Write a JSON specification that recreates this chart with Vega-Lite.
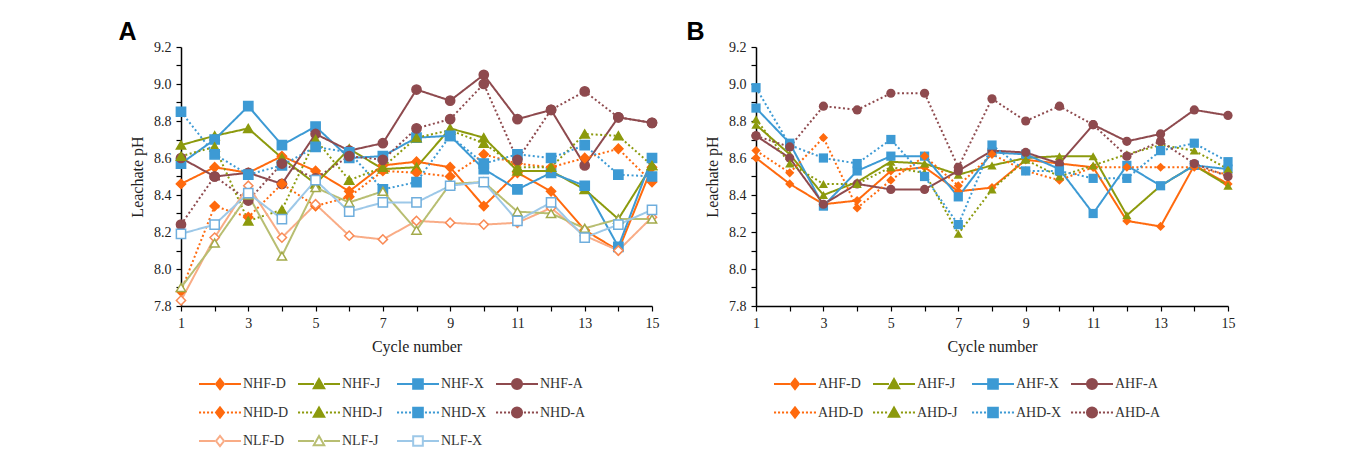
{
  "$schema": "https://vega.github.io/schema/vega-lite/v6.json",
  "background": "white",
  "padding": {"left": 118, "top": 20, "right": 5, "bottom": 5},
  "spacing": 26,
  "config": {
    "font": "Liberation Serif",
    "view": {"stroke": null},
    "axis": {"domainColor": "#000", "domainWidth": 1.5, "tickColor": "#000", "tickWidth": 1.2, "tickSize": 5, "labelFont": "Liberation Serif", "labelFontSize": 14, "labelColor": "#222", "labelPadding": 5, "labelFlush": false, "titleFont": "Liberation Serif", "titleFontSize": 16, "titleFontWeight": "normal", "titleColor": "#222", "grid": false},
    "legend": {"orient": "bottom", "direction": "horizontal", "columns": 4, "gridAlign": "all", "labelFont": "Liberation Serif", "labelFontSize": 14, "labelColor": "#333", "symbolSize": 1764, "symbolStrokeWidth": 2, "labelOffset": 1, "clipHeight": 20, "rowPadding": 8.5, "columnPadding": 8, "offset": 3, "padding": 17},
    "title": {"anchor": "start", "frame": "bounds", "font": "Liberation Sans", "fontSize": 25, "fontWeight": "bold", "color": "#000", "offset": -5}
  },
  "resolve": {
    "scale": {"color": "independent", "fill": "independent", "stroke": "independent", "shape": "independent", "strokeDash": "independent", "strokeWidth": "independent"},
    "legend": {"color": "independent"}
  },
  "datasets": {
    "A": [
      {"series":"NHF-D","cycle":1,"ph":8.46},{"series":"NHF-D","cycle":2,"ph":8.55},{"series":"NHF-D","cycle":3,"ph":8.52},{"series":"NHF-D","cycle":4,"ph":8.61},{"series":"NHF-D","cycle":5,"ph":8.53},{"series":"NHF-D","cycle":6,"ph":8.42},{"series":"NHF-D","cycle":7,"ph":8.56},{"series":"NHF-D","cycle":8,"ph":8.58},{"series":"NHF-D","cycle":9,"ph":8.55},{"series":"NHF-D","cycle":10,"ph":8.34},{"series":"NHF-D","cycle":11,"ph":8.52},{"series":"NHF-D","cycle":12,"ph":8.42},{"series":"NHF-D","cycle":13,"ph":8.21},{"series":"NHF-D","cycle":14,"ph":8.10},{"series":"NHF-D","cycle":15,"ph":8.55},
      {"series":"NHF-J","cycle":1,"ph":8.67},{"series":"NHF-J","cycle":2,"ph":8.72},{"series":"NHF-J","cycle":3,"ph":8.76},{"series":"NHF-J","cycle":4,"ph":8.60},{"series":"NHF-J","cycle":5,"ph":8.46},{"series":"NHF-J","cycle":6,"ph":8.65},{"series":"NHF-J","cycle":7,"ph":8.54},{"series":"NHF-J","cycle":8,"ph":8.55},{"series":"NHF-J","cycle":9,"ph":8.76},{"series":"NHF-J","cycle":10,"ph":8.71},{"series":"NHF-J","cycle":11,"ph":8.53},{"series":"NHF-J","cycle":12,"ph":8.53},{"series":"NHF-J","cycle":13,"ph":8.43},{"series":"NHF-J","cycle":14,"ph":8.27},{"series":"NHF-J","cycle":15,"ph":8.56},
      {"series":"NHF-X","cycle":1,"ph":8.57},{"series":"NHF-X","cycle":2,"ph":8.70},{"series":"NHF-X","cycle":3,"ph":8.88},{"series":"NHF-X","cycle":4,"ph":8.67},{"series":"NHF-X","cycle":5,"ph":8.77},{"series":"NHF-X","cycle":6,"ph":8.60},{"series":"NHF-X","cycle":7,"ph":8.61},{"series":"NHF-X","cycle":8,"ph":8.71},{"series":"NHF-X","cycle":9,"ph":8.72},{"series":"NHF-X","cycle":10,"ph":8.54},{"series":"NHF-X","cycle":11,"ph":8.43},{"series":"NHF-X","cycle":12,"ph":8.52},{"series":"NHF-X","cycle":13,"ph":8.45},{"series":"NHF-X","cycle":14,"ph":8.12},{"series":"NHF-X","cycle":15,"ph":8.60},
      {"series":"NHF-A","cycle":1,"ph":8.60},{"series":"NHF-A","cycle":2,"ph":8.50},{"series":"NHF-A","cycle":3,"ph":8.52},{"series":"NHF-A","cycle":4,"ph":8.46},{"series":"NHF-A","cycle":5,"ph":8.73},{"series":"NHF-A","cycle":6,"ph":8.64},{"series":"NHF-A","cycle":7,"ph":8.68},{"series":"NHF-A","cycle":8,"ph":8.97},{"series":"NHF-A","cycle":9,"ph":8.91},{"series":"NHF-A","cycle":10,"ph":9.05},{"series":"NHF-A","cycle":11,"ph":8.81},{"series":"NHF-A","cycle":12,"ph":8.86},{"series":"NHF-A","cycle":13,"ph":8.56},{"series":"NHF-A","cycle":14,"ph":8.82},{"series":"NHF-A","cycle":15,"ph":8.79},
      {"series":"NHD-D","cycle":1,"ph":7.88},{"series":"NHD-D","cycle":2,"ph":8.34},{"series":"NHD-D","cycle":3,"ph":8.28},{"series":"NHD-D","cycle":4,"ph":8.46},{"series":"NHD-D","cycle":5,"ph":8.34},{"series":"NHD-D","cycle":6,"ph":8.39},{"series":"NHD-D","cycle":7,"ph":8.53},{"series":"NHD-D","cycle":8,"ph":8.52},{"series":"NHD-D","cycle":9,"ph":8.50},{"series":"NHD-D","cycle":10,"ph":8.62},{"series":"NHD-D","cycle":11,"ph":8.57},{"series":"NHD-D","cycle":12,"ph":8.55},{"series":"NHD-D","cycle":13,"ph":8.60},{"series":"NHD-D","cycle":14,"ph":8.65},{"series":"NHD-D","cycle":15,"ph":8.47},
      {"series":"NHD-J","cycle":1,"ph":8.61},{"series":"NHD-J","cycle":2,"ph":8.66},{"series":"NHD-J","cycle":3,"ph":8.26},{"series":"NHD-J","cycle":4,"ph":8.32},{"series":"NHD-J","cycle":5,"ph":8.70},{"series":"NHD-J","cycle":6,"ph":8.48},{"series":"NHD-J","cycle":7,"ph":8.55},{"series":"NHD-J","cycle":8,"ph":8.71},{"series":"NHD-J","cycle":9,"ph":8.75},{"series":"NHD-J","cycle":10,"ph":8.68},{"series":"NHD-J","cycle":11,"ph":8.55},{"series":"NHD-J","cycle":12,"ph":8.55},{"series":"NHD-J","cycle":13,"ph":8.73},{"series":"NHD-J","cycle":14,"ph":8.72},{"series":"NHD-J","cycle":15,"ph":8.56},
      {"series":"NHD-X","cycle":1,"ph":8.85},{"series":"NHD-X","cycle":2,"ph":8.62},{"series":"NHD-X","cycle":3,"ph":8.51},{"series":"NHD-X","cycle":4,"ph":8.56},{"series":"NHD-X","cycle":5,"ph":8.66},{"series":"NHD-X","cycle":6,"ph":8.63},{"series":"NHD-X","cycle":7,"ph":8.43},{"series":"NHD-X","cycle":8,"ph":8.47},{"series":"NHD-X","cycle":9,"ph":8.72},{"series":"NHD-X","cycle":10,"ph":8.57},{"series":"NHD-X","cycle":11,"ph":8.62},{"series":"NHD-X","cycle":12,"ph":8.60},{"series":"NHD-X","cycle":13,"ph":8.67},{"series":"NHD-X","cycle":14,"ph":8.51},{"series":"NHD-X","cycle":15,"ph":8.50},
      {"series":"NHD-A","cycle":1,"ph":8.24},{"series":"NHD-A","cycle":2,"ph":8.50},{"series":"NHD-A","cycle":3,"ph":8.37},{"series":"NHD-A","cycle":4,"ph":8.57},{"series":"NHD-A","cycle":5,"ph":8.49},{"series":"NHD-A","cycle":6,"ph":8.61},{"series":"NHD-A","cycle":7,"ph":8.59},{"series":"NHD-A","cycle":8,"ph":8.76},{"series":"NHD-A","cycle":9,"ph":8.81},{"series":"NHD-A","cycle":10,"ph":9.00},{"series":"NHD-A","cycle":11,"ph":8.59},{"series":"NHD-A","cycle":12,"ph":8.86},{"series":"NHD-A","cycle":13,"ph":8.96},{"series":"NHD-A","cycle":14,"ph":8.82},{"series":"NHD-A","cycle":15,"ph":8.79},
      {"series":"NLF-D","cycle":1,"ph":7.83},{"series":"NLF-D","cycle":2,"ph":8.17},{"series":"NLF-D","cycle":3,"ph":8.45},{"series":"NLF-D","cycle":4,"ph":8.17},{"series":"NLF-D","cycle":5,"ph":8.35},{"series":"NLF-D","cycle":6,"ph":8.18},{"series":"NLF-D","cycle":7,"ph":8.16},{"series":"NLF-D","cycle":8,"ph":8.26},{"series":"NLF-D","cycle":9,"ph":8.25},{"series":"NLF-D","cycle":10,"ph":8.24},{"series":"NLF-D","cycle":11,"ph":8.25},{"series":"NLF-D","cycle":12,"ph":8.33},{"series":"NLF-D","cycle":13,"ph":8.18},{"series":"NLF-D","cycle":14,"ph":8.10},{"series":"NLF-D","cycle":15,"ph":8.28},
      {"series":"NLF-J","cycle":1,"ph":7.90},{"series":"NLF-J","cycle":2,"ph":8.14},{"series":"NLF-J","cycle":3,"ph":8.40},{"series":"NLF-J","cycle":4,"ph":8.07},{"series":"NLF-J","cycle":5,"ph":8.44},{"series":"NLF-J","cycle":6,"ph":8.36},{"series":"NLF-J","cycle":7,"ph":8.42},{"series":"NLF-J","cycle":8,"ph":8.21},{"series":"NLF-J","cycle":9,"ph":8.46},{"series":"NLF-J","cycle":10,"ph":8.47},{"series":"NLF-J","cycle":11,"ph":8.31},{"series":"NLF-J","cycle":12,"ph":8.30},{"series":"NLF-J","cycle":13,"ph":8.22},{"series":"NLF-J","cycle":14,"ph":8.27},{"series":"NLF-J","cycle":15,"ph":8.27},
      {"series":"NLF-X","cycle":1,"ph":8.19},{"series":"NLF-X","cycle":2,"ph":8.24},{"series":"NLF-X","cycle":3,"ph":8.41},{"series":"NLF-X","cycle":4,"ph":8.27},{"series":"NLF-X","cycle":5,"ph":8.48},{"series":"NLF-X","cycle":6,"ph":8.31},{"series":"NLF-X","cycle":7,"ph":8.36},{"series":"NLF-X","cycle":8,"ph":8.36},{"series":"NLF-X","cycle":9,"ph":8.45},{"series":"NLF-X","cycle":10,"ph":8.47},{"series":"NLF-X","cycle":11,"ph":8.26},{"series":"NLF-X","cycle":12,"ph":8.36},{"series":"NLF-X","cycle":13,"ph":8.17},{"series":"NLF-X","cycle":14,"ph":8.24},{"series":"NLF-X","cycle":15,"ph":8.32}
    ],
    "B": [
      {"series":"AHF-D","cycle":1,"ph":8.60},{"series":"AHF-D","cycle":2,"ph":8.46},{"series":"AHF-D","cycle":3,"ph":8.35},{"series":"AHF-D","cycle":4,"ph":8.37},{"series":"AHF-D","cycle":5,"ph":8.53},{"series":"AHF-D","cycle":6,"ph":8.55},{"series":"AHF-D","cycle":7,"ph":8.42},{"series":"AHF-D","cycle":8,"ph":8.44},{"series":"AHF-D","cycle":9,"ph":8.59},{"series":"AHF-D","cycle":10,"ph":8.57},{"series":"AHF-D","cycle":11,"ph":8.55},{"series":"AHF-D","cycle":12,"ph":8.26},{"series":"AHF-D","cycle":13,"ph":8.23},{"series":"AHF-D","cycle":14,"ph":8.56},{"series":"AHF-D","cycle":15,"ph":8.46},
      {"series":"AHF-J","cycle":1,"ph":8.78},{"series":"AHF-J","cycle":2,"ph":8.62},{"series":"AHF-J","cycle":3,"ph":8.40},{"series":"AHF-J","cycle":4,"ph":8.47},{"series":"AHF-J","cycle":5,"ph":8.58},{"series":"AHF-J","cycle":6,"ph":8.57},{"series":"AHF-J","cycle":7,"ph":8.51},{"series":"AHF-J","cycle":8,"ph":8.56},{"series":"AHF-J","cycle":9,"ph":8.60},{"series":"AHF-J","cycle":10,"ph":8.61},{"series":"AHF-J","cycle":11,"ph":8.61},{"series":"AHF-J","cycle":12,"ph":8.29},{"series":"AHF-J","cycle":13,"ph":8.45},{"series":"AHF-J","cycle":14,"ph":8.56},{"series":"AHF-J","cycle":15,"ph":8.45},
      {"series":"AHF-X","cycle":1,"ph":8.87},{"series":"AHF-X","cycle":2,"ph":8.68},{"series":"AHF-X","cycle":3,"ph":8.34},{"series":"AHF-X","cycle":4,"ph":8.53},{"series":"AHF-X","cycle":5,"ph":8.61},{"series":"AHF-X","cycle":6,"ph":8.61},{"series":"AHF-X","cycle":7,"ph":8.39},{"series":"AHF-X","cycle":8,"ph":8.63},{"series":"AHF-X","cycle":9,"ph":8.62},{"series":"AHF-X","cycle":10,"ph":8.54},{"series":"AHF-X","cycle":11,"ph":8.30},{"series":"AHF-X","cycle":12,"ph":8.56},{"series":"AHF-X","cycle":13,"ph":8.45},{"series":"AHF-X","cycle":14,"ph":8.56},{"series":"AHF-X","cycle":15,"ph":8.54},
      {"series":"AHF-A","cycle":1,"ph":8.72},{"series":"AHF-A","cycle":2,"ph":8.60},{"series":"AHF-A","cycle":3,"ph":8.35},{"series":"AHF-A","cycle":4,"ph":8.46},{"series":"AHF-A","cycle":5,"ph":8.43},{"series":"AHF-A","cycle":6,"ph":8.43},{"series":"AHF-A","cycle":7,"ph":8.53},{"series":"AHF-A","cycle":8,"ph":8.64},{"series":"AHF-A","cycle":9,"ph":8.63},{"series":"AHF-A","cycle":10,"ph":8.57},{"series":"AHF-A","cycle":11,"ph":8.78},{"series":"AHF-A","cycle":12,"ph":8.69},{"series":"AHF-A","cycle":13,"ph":8.73},{"series":"AHF-A","cycle":14,"ph":8.86},{"series":"AHF-A","cycle":15,"ph":8.83},
      {"series":"AHD-D","cycle":1,"ph":8.64},{"series":"AHD-D","cycle":2,"ph":8.52},{"series":"AHD-D","cycle":3,"ph":8.71},{"series":"AHD-D","cycle":4,"ph":8.33},{"series":"AHD-D","cycle":5,"ph":8.48},{"series":"AHD-D","cycle":6,"ph":8.61},{"series":"AHD-D","cycle":7,"ph":8.45},{"series":"AHD-D","cycle":8,"ph":8.62},{"series":"AHD-D","cycle":9,"ph":8.53},{"series":"AHD-D","cycle":10,"ph":8.48},{"series":"AHD-D","cycle":11,"ph":8.55},{"series":"AHD-D","cycle":12,"ph":8.55},{"series":"AHD-D","cycle":13,"ph":8.55},{"series":"AHD-D","cycle":14,"ph":8.55},{"series":"AHD-D","cycle":15,"ph":8.51},
      {"series":"AHD-J","cycle":1,"ph":8.81},{"series":"AHD-J","cycle":2,"ph":8.57},{"series":"AHD-J","cycle":3,"ph":8.46},{"series":"AHD-J","cycle":4,"ph":8.46},{"series":"AHD-J","cycle":5,"ph":8.55},{"series":"AHD-J","cycle":6,"ph":8.52},{"series":"AHD-J","cycle":7,"ph":8.19},{"series":"AHD-J","cycle":8,"ph":8.43},{"series":"AHD-J","cycle":9,"ph":8.59},{"series":"AHD-J","cycle":10,"ph":8.50},{"series":"AHD-J","cycle":11,"ph":8.56},{"series":"AHD-J","cycle":12,"ph":8.62},{"series":"AHD-J","cycle":13,"ph":8.67},{"series":"AHD-J","cycle":14,"ph":8.64},{"series":"AHD-J","cycle":15,"ph":8.54},
      {"series":"AHD-X","cycle":1,"ph":8.98},{"series":"AHD-X","cycle":2,"ph":8.67},{"series":"AHD-X","cycle":3,"ph":8.60},{"series":"AHD-X","cycle":4,"ph":8.57},{"series":"AHD-X","cycle":5,"ph":8.70},{"series":"AHD-X","cycle":6,"ph":8.50},{"series":"AHD-X","cycle":7,"ph":8.24},{"series":"AHD-X","cycle":8,"ph":8.67},{"series":"AHD-X","cycle":9,"ph":8.53},{"series":"AHD-X","cycle":10,"ph":8.53},{"series":"AHD-X","cycle":11,"ph":8.49},{"series":"AHD-X","cycle":12,"ph":8.49},{"series":"AHD-X","cycle":13,"ph":8.64},{"series":"AHD-X","cycle":14,"ph":8.68},{"series":"AHD-X","cycle":15,"ph":8.58},
      {"series":"AHD-A","cycle":1,"ph":8.72},{"series":"AHD-A","cycle":2,"ph":8.66},{"series":"AHD-A","cycle":3,"ph":8.88},{"series":"AHD-A","cycle":4,"ph":8.86},{"series":"AHD-A","cycle":5,"ph":8.95},{"series":"AHD-A","cycle":6,"ph":8.95},{"series":"AHD-A","cycle":7,"ph":8.55},{"series":"AHD-A","cycle":8,"ph":8.92},{"series":"AHD-A","cycle":9,"ph":8.80},{"series":"AHD-A","cycle":10,"ph":8.88},{"series":"AHD-A","cycle":11,"ph":8.78},{"series":"AHD-A","cycle":12,"ph":8.61},{"series":"AHD-A","cycle":13,"ph":8.69},{"series":"AHD-A","cycle":14,"ph":8.57},{"series":"AHD-A","cycle":15,"ph":8.50}
    ]
  },
  "hconcat": [
    {
      "title": {"text": "A", "dx": -11},
      "width": 471,
      "height": 259,
      "data": {"name": "A"},
      "encoding": {
        "x": {"field": "cycle", "type": "quantitative", "title": "Cycle number", "scale": {"domain": [1, 15], "nice": false, "zero": false}, "axis": {"values": [1,2,3,4,5,6,7,8,9,10,11,12,13,14,15], "labelExpr": "datum.value % 2 == 1 ? datum.label : ''", "titlePadding": 8}},
        "y": {"field": "ph", "type": "quantitative", "title": "Leachate pH", "scale": {"domain": [7.8, 9.2], "nice": false, "zero": false}, "axis": {"values": [7.8,7.9,8.0,8.1,8.2,8.3,8.4,8.5,8.6,8.7,8.8,8.9,9.0,9.1,9.2], "labelExpr": "round(datum.value*10) % 2 == 0 ? format(datum.value, '.1f') : ''", "titlePadding": 8}}
      },
      "layer": [
        {
          "mark": {"type": "line", "strokeCap": "butt"},
          "encoding": {
            "color": {"field": "series", "type": "nominal", "scale": {"domain": ["NHF-D","NHF-J","NHF-X","NHF-A","NHD-D","NHD-J","NHD-X","NHD-A","NLF-D","NLF-J","NLF-X"], "range": ["#FF6A0E","#8C9A0D","#3D9AD4","#8E4A4E","#FF6A0E","#8C9A0D","#3D9AD4","#8E4A4E","#F9AC86","#B8BE72","#9DC8E8"]},
              "legend": {"title": null, "encode": {"symbols": {"update": {
                "shape": {"signal": "(substring(datum.value,2,3) == 'D' ? 'M-1,0H-0.9M-0.81,0H-0.71M-0.62,0H-0.52M-0.43,0H-0.33M0.33,0H0.43M0.52,0H0.62M0.71,0H0.81M0.9,0H1' : 'M-1,0H-0.24M0.24,0H1') + ['M0,-0.24L0.19,0L0,0.24L-0.19,0Z','M0,-0.24L0.25,0.2L-0.25,0.2Z','M-0.23,-0.23H0.23V0.23H-0.23Z','M0.24,0A0.24,0.24,0,1,1,-0.24,0A0.24,0.24,0,1,1,0.24,0Z'][indexof('DJXA', substring(datum.value,4,5))]"},
                "stroke": {"signal": "substring(datum.value,1,2) == 'L' ? ['#F9A57D','#AEB55E','#8DC0E6','#8E4A4E'][indexof('DJXA', substring(datum.value,4,5))] : ['#FF6A0E','#8C9A0D','#3D9AD4','#8E4A4E'][indexof('DJXA', substring(datum.value,4,5))]"},
                "fill": {"signal": "substring(datum.value,1,2) == 'L' ? '#ffffff' : ['#FF6A0E','#8C9A0D','#3D9AD4','#8E4A4E'][indexof('DJXA', substring(datum.value,4,5))]"},
                "strokeWidth": {"signal": "substring(datum.value,1,2) == 'L' ? 2.5 : 2"},
                "opacity": {"value": 1}
              }}}}},
            "strokeDash": {"field": "series", "type": "nominal", "legend": null, "scale": {"domain": ["NHD-D","NHD-J","NHD-X","NHD-A","NHF-D","NHF-J","NHF-X","NHF-A","NLF-D","NLF-J","NLF-X"], "range": [[2,2.5],[2,2.5],[2,2.5],[2,2.5],[1,0],[1,0],[1,0],[1,0],[1,0],[1,0],[1,0]]}},
            "strokeWidth": {"field": "series", "type": "nominal", "legend": null, "scale": {"domain": ["NHF-D","NHF-J","NHF-X","NHF-A","NHD-D","NHD-J","NHD-X","NHD-A","NLF-D","NLF-J","NLF-X"], "range": [2,2,2,2,1.6,1.6,1.6,1.6,3,3,3]}}
          }
        },
        {
          "mark": {"type": "point", "filled": false, "size": 85, "strokeWidth": 1.5, "opacity": 1},
          "encoding": {
            "shape": {"field": "series", "type": "nominal", "legend": null, "scale": {"domain": ["NLF-X","NLF-J","NLF-D","NHD-A","NHD-X","NHD-J","NHD-D","NHF-A","NHF-X","NHF-J","NHF-D"], "range": ["square","triangle-up","diamond","circle","square","triangle-up","diamond","circle","square","triangle-up","diamond"]}},
            "fill": {"field": "series", "type": "nominal", "legend": null, "scale": {"domain": ["NHF-D","NHF-J","NHF-X","NHF-A","NHD-D","NHD-J","NHD-X","NHD-A","NLF-D","NLF-J","NLF-X"], "range": ["#FF6A0E","#8C9A0D","#3D9AD4","#8E4A4E","#FF6A0E","#8C9A0D","#3D9AD4","#8E4A4E","#ffffff","#ffffff","#ffffff"]}},
            "stroke": {"field": "series", "type": "nominal", "legend": null, "scale": {"domain": ["NHF-D","NHF-J","NHF-X","NHF-A","NHD-D","NHD-J","NHD-X","NHD-A","NLF-D","NLF-J","NLF-X"], "range": ["#FF6A0E","#8C9A0D","#3D9AD4","#8E4A4E","#FF6A0E","#8C9A0D","#3D9AD4","#8E4A4E","#F98A55","#A3AA4A","#6FAEDD"]}}
          }
        }
      ]
    },
    {
      "title": {"text": "B", "dx": -18},
      "width": 472,
      "height": 259,
      "data": {"name": "B"},
      "encoding": {
        "x": {"field": "cycle", "type": "quantitative", "title": "Cycle number", "scale": {"domain": [1, 15], "nice": false, "zero": false}, "axis": {"values": [1,2,3,4,5,6,7,8,9,10,11,12,13,14,15], "labelExpr": "datum.value % 2 == 1 ? datum.label : ''", "titlePadding": 8}},
        "y": {"field": "ph", "type": "quantitative", "title": "Leachate pH", "scale": {"domain": [7.8, 9.2], "nice": false, "zero": false}, "axis": {"values": [7.8,7.9,8.0,8.1,8.2,8.3,8.4,8.5,8.6,8.7,8.8,8.9,9.0,9.1,9.2], "labelExpr": "round(datum.value*10) % 2 == 0 ? format(datum.value, '.1f') : ''", "titlePadding": 8}}
      },
      "layer": [
        {
          "mark": {"type": "line", "strokeCap": "butt"},
          "encoding": {
            "color": {"field": "series", "type": "nominal", "scale": {"domain": ["AHF-D","AHF-J","AHF-X","AHF-A","AHD-D","AHD-J","AHD-X","AHD-A"], "range": ["#FF6A0E","#8C9A0D","#3D9AD4","#8E4A4E","#FF6A0E","#8C9A0D","#3D9AD4","#8E4A4E"]},
              "legend": {"title": null, "encode": {"symbols": {"update": {
                "shape": {"signal": "(substring(datum.value,2,3) == 'D' ? 'M-1,0H-0.9M-0.81,0H-0.71M-0.62,0H-0.52M-0.43,0H-0.33M0.33,0H0.43M0.52,0H0.62M0.71,0H0.81M0.9,0H1' : 'M-1,0H-0.24M0.24,0H1') + ['M0,-0.24L0.19,0L0,0.24L-0.19,0Z','M0,-0.24L0.25,0.2L-0.25,0.2Z','M-0.23,-0.23H0.23V0.23H-0.23Z','M0.24,0A0.24,0.24,0,1,1,-0.24,0A0.24,0.24,0,1,1,0.24,0Z'][indexof('DJXA', substring(datum.value,4,5))]"},
                "stroke": {"signal": "['#FF6A0E','#8C9A0D','#3D9AD4','#8E4A4E'][indexof('DJXA', substring(datum.value,4,5))]"},
                "fill": {"signal": "['#FF6A0E','#8C9A0D','#3D9AD4','#8E4A4E'][indexof('DJXA', substring(datum.value,4,5))]"},
                "strokeWidth": {"value": 2},
                "opacity": {"value": 1}
              }}}}},
            "strokeDash": {"field": "series", "type": "nominal", "legend": null, "scale": {"domain": ["AHD-D","AHD-J","AHD-X","AHD-A","AHF-D","AHF-J","AHF-X","AHF-A"], "range": [[2,2.5],[2,2.5],[2,2.5],[2,2.5],[1,0],[1,0],[1,0],[1,0]]}},
            "strokeWidth": {"field": "series", "type": "nominal", "legend": null, "scale": {"domain": ["AHF-D","AHF-J","AHF-X","AHF-A","AHD-D","AHD-J","AHD-X","AHD-A"], "range": [2,2,2,2,1.6,1.6,1.6,1.6]}}
          }
        },
        {
          "mark": {"type": "point", "filled": true, "size": 85, "opacity": 1},
          "encoding": {
            "shape": {"field": "series", "type": "nominal", "legend": null, "scale": {"domain": ["AHD-A","AHD-X","AHD-J","AHD-D","AHF-A","AHF-X","AHF-J","AHF-D"], "range": ["circle","square","triangle-up","diamond","circle","square","triangle-up","diamond"]}},
            "fill": {"field": "series", "type": "nominal", "legend": null, "scale": {"domain": ["AHF-D","AHF-J","AHF-X","AHF-A","AHD-D","AHD-J","AHD-X","AHD-A"], "range": ["#FF6A0E","#8C9A0D","#3D9AD4","#8E4A4E","#FF6A0E","#8C9A0D","#3D9AD4","#8E4A4E"]}}
          }
        }
      ]
    }
  ]
}
